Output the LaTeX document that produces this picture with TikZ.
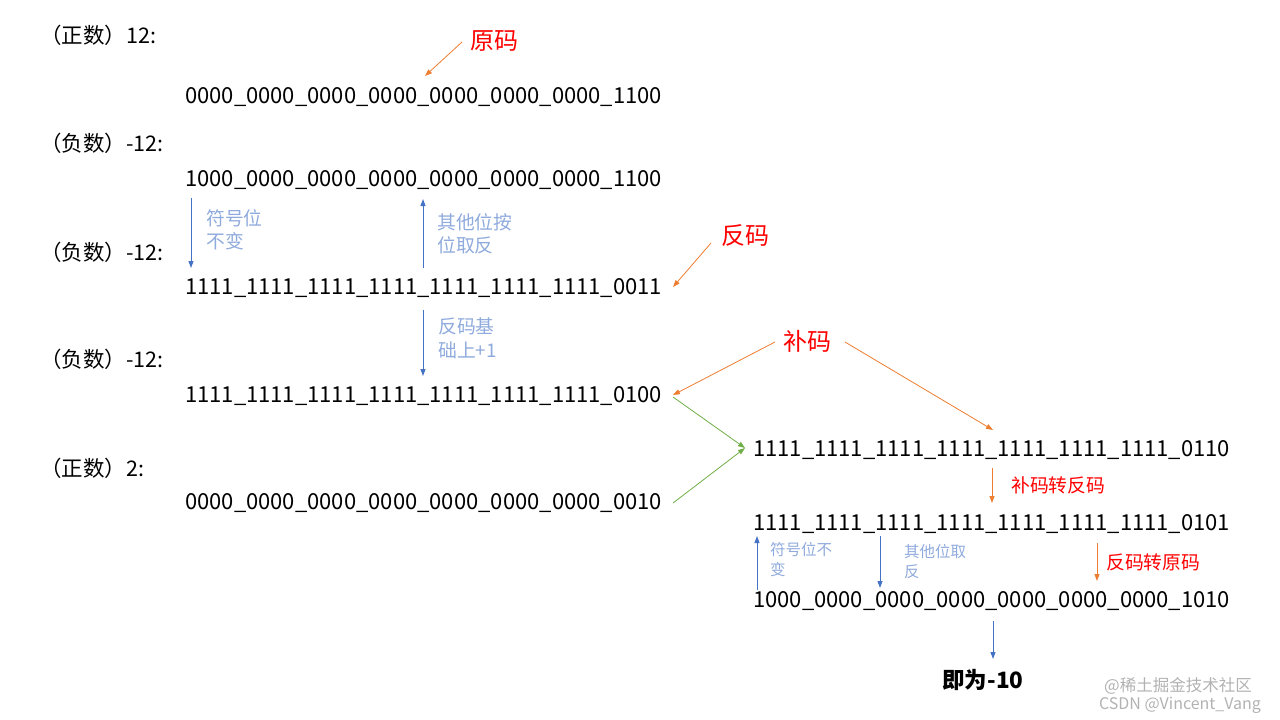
\documentclass[tikz,border=0pt]{standalone}
\usepackage{fontspec}
\setmainfont{Noto Sans CJK SC}
\usetikzlibrary{arrows.meta}
\definecolor{ablue}{HTML}{4472C4}
\definecolor{aorange}{HTML}{ED7D31}
\definecolor{agreen}{HTML}{70AD47}
\definecolor{ared}{HTML}{FF0000}
\definecolor{alabel}{HTML}{8FAADC}
\tikzset{
  bin/.style={anchor=west,inner sep=0pt,font=\fontsize{22}{24}\selectfont},
  head/.style={anchor=west,inner sep=0pt,font=\fontsize{21.5}{24}\selectfont},
  redlab/.style={inner sep=0pt,text=ared,font=\fontsize{24}{28}\selectfont},
  redsmall/.style={anchor=west,inner sep=0pt,text=ared,font=\fontsize{18.8}{20}\selectfont},
  bluelab/.style={anchor=north west,inner sep=0pt,align=left,text=alabel,font=\fontsize{18.8}{23.5}\selectfont},
  bluesmall/.style={anchor=north west,inner sep=0pt,align=left,text=alabel,font=\fontsize{15.5}{20}\selectfont},
  barr/.style={draw=ablue,line width=1pt,-{Triangle[length=7pt,width=5pt]}},
  oarr/.style={draw=aorange,line width=0.8pt,-{Triangle[length=7pt,width=5pt]}},
  garr/.style={draw=agreen,line width=0.8pt,-{Triangle[length=7pt,width=5pt]}},
}
\begin{document}
\begin{tikzpicture}[x=1pt,y=-1pt]
\useasboundingbox (0,0) rectangle (1280,720);
% headers
\node[head] (h1) at (40,35) {（正数）12:};
\node[head] (h2) at (40,143) {（负数）-12:};
\node[head] (h3) at (40,252) {（负数）-12:};
\node[head] (h4) at (40,359) {（负数）-12:};
\node[head] (h5) at (40,468) {（正数）2:};
% binary rows
\node[bin] (r1) at (185,97) {0000\_0000\_0000\_0000\_0000\_0000\_0000\_1100};
\node[bin] (r2) at (185,180) {1000\_0000\_0000\_0000\_0000\_0000\_0000\_1100};
\node[bin] (r3) at (185,288) {1111\_1111\_1111\_1111\_1111\_1111\_1111\_0011};
\node[bin] (r4) at (185,396) {1111\_1111\_1111\_1111\_1111\_1111\_1111\_0100};
\node[bin] (r5) at (185,503) {0000\_0000\_0000\_0000\_0000\_0000\_0000\_0010};
\node[bin] (r6) at (753,450) {1111\_1111\_1111\_1111\_1111\_1111\_1111\_0110};
\node[bin] (r7) at (753,524) {1111\_1111\_1111\_1111\_1111\_1111\_1111\_0101};
\node[bin] (r8) at (753,601) {1000\_0000\_0000\_0000\_0000\_0000\_0000\_1010};
% red labels
\node[redlab] (yuan) at (494,41) {原码};
\node[redlab] (fan) at (745,236) {反码};
\node[redlab] (bu) at (807,341) {补码};
\node[redsmall] (b2f) at (1011,485) {补码转反码};
\node[redsmall] (f2y) at (1106,562) {反码转原码};
% blue labels
\node[bluelab] (l1) at (206,209) {符号位\\不变};
\node[bluelab] (l2) at (437,213) {其他位按\\位取反};
\node[bluelab] (l3) at (438,318) {反码基\\础上+1};
\node[bluesmall] (l4) at (770,542) {符号位不\\变};
\node[bluesmall] (l5) at (904,544) {其他位取\\反};
% result
\node[inner sep=0pt,font=\fontsize{22.5}{24}\selectfont\bfseries] (res) at (983,680) {即为-10};
% watermark
\node[inner sep=0pt,text=black!30,font=\fontsize{16.5}{18}\selectfont] (wm1) at (1178,686) {@稀土掘金技术社区};
\node[inner sep=0pt,text=black!30,font=\fontsize{16}{17}\selectfont] (wm2) at (1180,705) {CSDN @Vincent\_Vang};
% coordinates for arrows
\coordinate (a1s) at (462,42); \coordinate (a1e) at (425,76);
\coordinate (a2s) at (711,243); \coordinate (a2e) at (673,287);
\coordinate (a3s) at (775,342); \coordinate (a3e) at (673,395);
\coordinate (a4s) at (845,342); \coordinate (a4e) at (993,430);
\coordinate (g1s) at (673,397); \coordinate (g2s) at (673,503); \coordinate (ge) at (745,448);
\coordinate (b1s) at (191,198); \coordinate (b1e) at (191,268);
\coordinate (b2s) at (423,268); \coordinate (b2e) at (423,199);
\coordinate (b3s) at (423,310); \coordinate (b3e) at (423,376);
\coordinate (o1s) at (992,468); \coordinate (o1e) at (992,503);
\coordinate (b4s) at (757,590); \coordinate (b4e) at (757,536);
\coordinate (b5s) at (880,536); \coordinate (b5e) at (880,588);
\coordinate (o2s) at (1097,543); \coordinate (o2e) at (1097,581);
\coordinate (b6s) at (993,621); \coordinate (b6e) at (993,659);
% arrows
\draw[oarr] (a1s) -- (a1e);
\draw[oarr] (a2s) -- (a2e);
\draw[oarr] (a3s) -- (a3e);
\draw[oarr] (a4s) -- (a4e);
\draw[garr] (g1s) -- (ge);
\draw[garr] (g2s) -- (ge);
\draw[barr] (b1s) -- (b1e);
\draw[barr] (b2s) -- (b2e);
\draw[barr] (b3s) -- (b3e);
\draw[oarr] (o1s) -- (o1e);
\draw[barr] (b4s) -- (b4e);
\draw[barr] (b5s) -- (b5e);
\draw[oarr] (o2s) -- (o2e);
\draw[barr] (b6s) -- (b6e);
\end{tikzpicture}
\end{document}
